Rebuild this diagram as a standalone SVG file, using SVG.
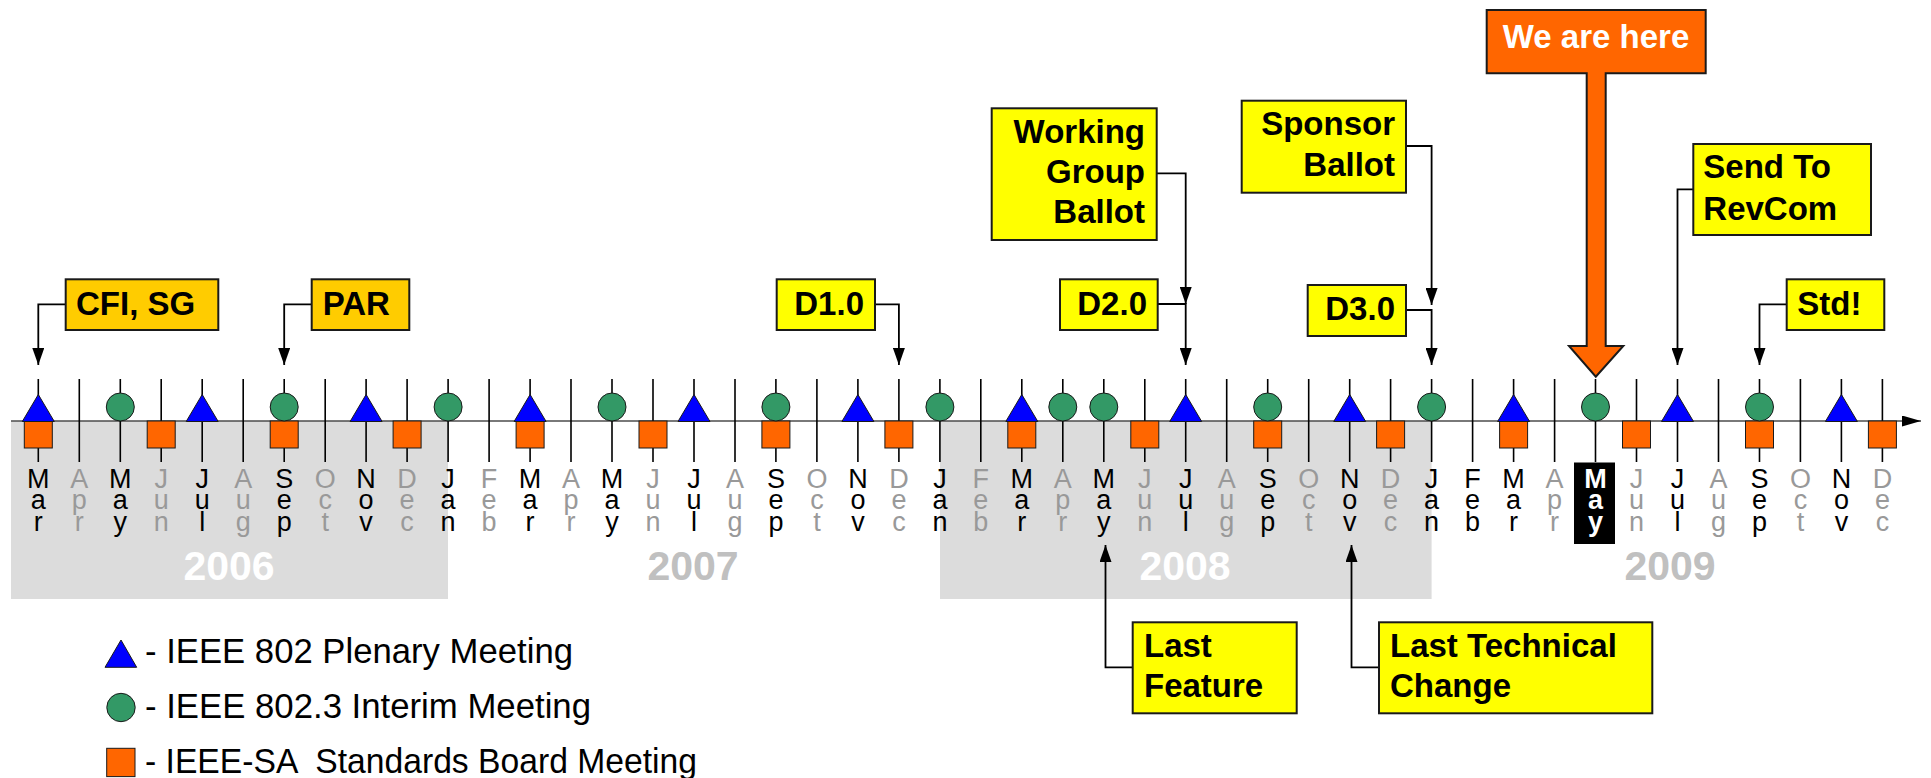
<svg xmlns="http://www.w3.org/2000/svg" width="1931" height="778" viewBox="0 0 1931 778">
<style>
  text { font-family: "Liberation Sans", Arial, sans-serif; }
  .band { fill: #dcdcdc; }
  .tick { stroke: #000; stroke-width: 1.6; fill: none; }
  .axis { stroke: #4d4d4d; stroke-width: 1.6; fill: none; }
  .tri { fill: #0000ff; stroke: #1a1a1a; stroke-width: 1; }
  .cir { fill: #339966; stroke: #1a1a1a; stroke-width: 1; }
  .sq { fill: #ff6600; stroke: #1a1a1a; stroke-width: 1; }
  .m { font-size: 27px; text-anchor: middle; fill: #000; }
  .m.g { fill: #999999; }
  .m.h { fill: #fff; font-weight: bold; }
  .yr { font-size: 41px; font-weight: bold; text-anchor: middle; }
  .yw { fill: #ffffff; }
  .yg { fill: #c0c0c0; }
  .box { fill: #ffff00; stroke: #1a1a1a; stroke-width: 2; }
  .box2 { fill: #ffcc00; stroke: #1a1a1a; stroke-width: 2; }
  .bt { font-size: 33px; font-weight: bold; fill: #000; }
  .end { text-anchor: end; }
  .con { stroke: #000; stroke-width: 1.8; fill: none; }
  .leg { font-size: 34.5px; fill: #000; }
</style>
<defs>
  <marker id="ah" markerUnits="userSpaceOnUse" markerWidth="18" markerHeight="12" refX="17" refY="6" orient="auto">
    <path d="M0,0 L17,6 L0,12 Z" fill="#000"/>
  </marker>
  <marker id="axh" markerUnits="userSpaceOnUse" markerWidth="20" markerHeight="12" refX="19" refY="5.5" orient="auto">
    <path d="M0,0 L19,5.5 L0,11 Z" fill="#000"/>
  </marker>
  <polygon id="tri" class="tri" points="-16,421.5 0,394.5 16,421.5"/>
  <circle id="cir" class="cir" cx="0" cy="407" r="14"/>
  <rect id="sq" class="sq" x="-14" y="421" width="28" height="27"/>
</defs>
<rect width="1931" height="778" fill="#ffffff"/>

<g id="year-bands">
  <rect class="band" x="11" y="421" width="437" height="178"/>
  <rect class="band" x="940" y="421" width="491.6" height="178"/>
</g>

<g id="years">
  <text class="yr yw" x="229" y="580">2006</text>
  <text class="yr yg" x="693" y="580">2007</text>
  <text class="yr yw" x="1185" y="580">2008</text>
  <text class="yr yg" x="1670" y="580">2009</text>
</g>

<g id="timeline">
  <path class="axis" d="M11,421 H1921" marker-end="url(#axh)"/>
  <path class="tick" d="M38.3,379V462 M79.3,379V462 M120.3,379V462 M161.2,379V462 M202.2,379V462 M243.2,379V462 M284.2,379V462 M325.2,379V462 M366.1,379V462 M407.1,379V462 M448.1,379V462 M489.1,379V462 M530.1,379V462 M571,379V462 M612,379V462 M653,379V462 M694,379V462 M735,379V462 M775.9,379V462 M816.9,379V462 M857.9,379V462 M898.9,379V462 M939.9,379V462 M980.8,379V462 M1021.8,379V462 M1062.8,379V462 M1103.8,379V462 M1144.8,379V462 M1185.7,379V462 M1226.7,379V462 M1267.7,379V462 M1308.7,379V462 M1349.7,379V462 M1390.6,379V462 M1431.6,379V462 M1472.6,379V462 M1513.6,379V462 M1554.6,379V462 M1595.5,379V462 M1636.5,379V462 M1677.5,379V462 M1718.5,379V462 M1759.5,379V462 M1800.4,379V462 M1841.4,379V462 M1882.4,379V462"/>
</g>

<g id="meetings">
  <use href="#sq" x="38.3"/><use href="#tri" x="38.3"/>
  <use href="#cir" x="120.3"/>
  <use href="#sq" x="161.2"/>
  <use href="#tri" x="202.2"/>
  <use href="#sq" x="284.2"/><use href="#cir" x="284.2"/>
  <use href="#tri" x="366.1"/>
  <use href="#sq" x="407.1"/>
  <use href="#cir" x="448.1"/>
  <use href="#sq" x="530.1"/><use href="#tri" x="530.1"/>
  <use href="#cir" x="612"/>
  <use href="#sq" x="653"/>
  <use href="#tri" x="694"/>
  <use href="#sq" x="775.9"/><use href="#cir" x="775.9"/>
  <use href="#tri" x="857.9"/>
  <use href="#sq" x="898.9"/>
  <use href="#cir" x="939.9"/>
  <use href="#sq" x="1021.8"/><use href="#tri" x="1021.8"/>
  <use href="#cir" x="1062.8"/>
  <use href="#cir" x="1103.8"/>
  <use href="#sq" x="1144.8"/>
  <use href="#tri" x="1185.7"/>
  <use href="#sq" x="1267.7"/><use href="#cir" x="1267.7"/>
  <use href="#tri" x="1349.7"/>
  <use href="#sq" x="1390.6"/>
  <use href="#cir" x="1431.6"/>
  <use href="#sq" x="1513.6"/><use href="#tri" x="1513.6"/>
  <use href="#cir" x="1595.5"/>
  <use href="#sq" x="1636.5"/>
  <use href="#tri" x="1677.5"/>
  <use href="#sq" x="1759.5"/><use href="#cir" x="1759.5"/>
  <use href="#tri" x="1841.4"/>
  <use href="#sq" x="1882.4"/>
</g>

<g id="months">
  <text class="m" y="487.5"><tspan x="38.3">M</tspan><tspan x="38.3" dy="21.5">a</tspan><tspan x="38.3" dy="21.5">r</tspan></text>
  <text class="m g" y="487.5"><tspan x="79.3">A</tspan><tspan x="79.3" dy="21.5">p</tspan><tspan x="79.3" dy="21.5">r</tspan></text>
  <text class="m" y="487.5"><tspan x="120.3">M</tspan><tspan x="120.3" dy="21.5">a</tspan><tspan x="120.3" dy="21.5">y</tspan></text>
  <text class="m g" y="487.5"><tspan x="161.2">J</tspan><tspan x="161.2" dy="21.5">u</tspan><tspan x="161.2" dy="21.5">n</tspan></text>
  <text class="m" y="487.5"><tspan x="202.2">J</tspan><tspan x="202.2" dy="21.5">u</tspan><tspan x="202.2" dy="21.5">l</tspan></text>
  <text class="m g" y="487.5"><tspan x="243.2">A</tspan><tspan x="243.2" dy="21.5">u</tspan><tspan x="243.2" dy="21.5">g</tspan></text>
  <text class="m" y="487.5"><tspan x="284.2">S</tspan><tspan x="284.2" dy="21.5">e</tspan><tspan x="284.2" dy="21.5">p</tspan></text>
  <text class="m g" y="487.5"><tspan x="325.2">O</tspan><tspan x="325.2" dy="21.5">c</tspan><tspan x="325.2" dy="21.5">t</tspan></text>
  <text class="m" y="487.5"><tspan x="366.1">N</tspan><tspan x="366.1" dy="21.5">o</tspan><tspan x="366.1" dy="21.5">v</tspan></text>
  <text class="m g" y="487.5"><tspan x="407.1">D</tspan><tspan x="407.1" dy="21.5">e</tspan><tspan x="407.1" dy="21.5">c</tspan></text>
  <text class="m" y="487.5"><tspan x="448.1">J</tspan><tspan x="448.1" dy="21.5">a</tspan><tspan x="448.1" dy="21.5">n</tspan></text>
  <text class="m g" y="487.5"><tspan x="489.1">F</tspan><tspan x="489.1" dy="21.5">e</tspan><tspan x="489.1" dy="21.5">b</tspan></text>
  <text class="m" y="487.5"><tspan x="530.1">M</tspan><tspan x="530.1" dy="21.5">a</tspan><tspan x="530.1" dy="21.5">r</tspan></text>
  <text class="m g" y="487.5"><tspan x="571">A</tspan><tspan x="571" dy="21.5">p</tspan><tspan x="571" dy="21.5">r</tspan></text>
  <text class="m" y="487.5"><tspan x="612">M</tspan><tspan x="612" dy="21.5">a</tspan><tspan x="612" dy="21.5">y</tspan></text>
  <text class="m g" y="487.5"><tspan x="653">J</tspan><tspan x="653" dy="21.5">u</tspan><tspan x="653" dy="21.5">n</tspan></text>
  <text class="m" y="487.5"><tspan x="694">J</tspan><tspan x="694" dy="21.5">u</tspan><tspan x="694" dy="21.5">l</tspan></text>
  <text class="m g" y="487.5"><tspan x="735">A</tspan><tspan x="735" dy="21.5">u</tspan><tspan x="735" dy="21.5">g</tspan></text>
  <text class="m" y="487.5"><tspan x="775.9">S</tspan><tspan x="775.9" dy="21.5">e</tspan><tspan x="775.9" dy="21.5">p</tspan></text>
  <text class="m g" y="487.5"><tspan x="816.9">O</tspan><tspan x="816.9" dy="21.5">c</tspan><tspan x="816.9" dy="21.5">t</tspan></text>
  <text class="m" y="487.5"><tspan x="857.9">N</tspan><tspan x="857.9" dy="21.5">o</tspan><tspan x="857.9" dy="21.5">v</tspan></text>
  <text class="m g" y="487.5"><tspan x="898.9">D</tspan><tspan x="898.9" dy="21.5">e</tspan><tspan x="898.9" dy="21.5">c</tspan></text>
  <text class="m" y="487.5"><tspan x="939.9">J</tspan><tspan x="939.9" dy="21.5">a</tspan><tspan x="939.9" dy="21.5">n</tspan></text>
  <text class="m g" y="487.5"><tspan x="980.8">F</tspan><tspan x="980.8" dy="21.5">e</tspan><tspan x="980.8" dy="21.5">b</tspan></text>
  <text class="m" y="487.5"><tspan x="1021.8">M</tspan><tspan x="1021.8" dy="21.5">a</tspan><tspan x="1021.8" dy="21.5">r</tspan></text>
  <text class="m g" y="487.5"><tspan x="1062.8">A</tspan><tspan x="1062.8" dy="21.5">p</tspan><tspan x="1062.8" dy="21.5">r</tspan></text>
  <text class="m" y="487.5"><tspan x="1103.8">M</tspan><tspan x="1103.8" dy="21.5">a</tspan><tspan x="1103.8" dy="21.5">y</tspan></text>
  <text class="m g" y="487.5"><tspan x="1144.8">J</tspan><tspan x="1144.8" dy="21.5">u</tspan><tspan x="1144.8" dy="21.5">n</tspan></text>
  <text class="m" y="487.5"><tspan x="1185.7">J</tspan><tspan x="1185.7" dy="21.5">u</tspan><tspan x="1185.7" dy="21.5">l</tspan></text>
  <text class="m g" y="487.5"><tspan x="1226.7">A</tspan><tspan x="1226.7" dy="21.5">u</tspan><tspan x="1226.7" dy="21.5">g</tspan></text>
  <text class="m" y="487.5"><tspan x="1267.7">S</tspan><tspan x="1267.7" dy="21.5">e</tspan><tspan x="1267.7" dy="21.5">p</tspan></text>
  <text class="m g" y="487.5"><tspan x="1308.7">O</tspan><tspan x="1308.7" dy="21.5">c</tspan><tspan x="1308.7" dy="21.5">t</tspan></text>
  <text class="m" y="487.5"><tspan x="1349.7">N</tspan><tspan x="1349.7" dy="21.5">o</tspan><tspan x="1349.7" dy="21.5">v</tspan></text>
  <text class="m g" y="487.5"><tspan x="1390.6">D</tspan><tspan x="1390.6" dy="21.5">e</tspan><tspan x="1390.6" dy="21.5">c</tspan></text>
  <text class="m" y="487.5"><tspan x="1431.6">J</tspan><tspan x="1431.6" dy="21.5">a</tspan><tspan x="1431.6" dy="21.5">n</tspan></text>
  <text class="m" y="487.5"><tspan x="1472.6">F</tspan><tspan x="1472.6" dy="21.5">e</tspan><tspan x="1472.6" dy="21.5">b</tspan></text>
  <text class="m" y="487.5"><tspan x="1513.6">M</tspan><tspan x="1513.6" dy="21.5">a</tspan><tspan x="1513.6" dy="21.5">r</tspan></text>
  <text class="m g" y="487.5"><tspan x="1554.6">A</tspan><tspan x="1554.6" dy="21.5">p</tspan><tspan x="1554.6" dy="21.5">r</tspan></text>
  <rect x="1574" y="462.5" width="41" height="81.5" fill="#000"/>
  <text class="m h" y="487.5"><tspan x="1595.5">M</tspan><tspan x="1595.5" dy="21.5">a</tspan><tspan x="1595.5" dy="21.5">y</tspan></text>
  <text class="m g" y="487.5"><tspan x="1636.5">J</tspan><tspan x="1636.5" dy="21.5">u</tspan><tspan x="1636.5" dy="21.5">n</tspan></text>
  <text class="m" y="487.5"><tspan x="1677.5">J</tspan><tspan x="1677.5" dy="21.5">u</tspan><tspan x="1677.5" dy="21.5">l</tspan></text>
  <text class="m g" y="487.5"><tspan x="1718.5">A</tspan><tspan x="1718.5" dy="21.5">u</tspan><tspan x="1718.5" dy="21.5">g</tspan></text>
  <text class="m" y="487.5"><tspan x="1759.5">S</tspan><tspan x="1759.5" dy="21.5">e</tspan><tspan x="1759.5" dy="21.5">p</tspan></text>
  <text class="m g" y="487.5"><tspan x="1800.4">O</tspan><tspan x="1800.4" dy="21.5">c</tspan><tspan x="1800.4" dy="21.5">t</tspan></text>
  <text class="m" y="487.5"><tspan x="1841.4">N</tspan><tspan x="1841.4" dy="21.5">o</tspan><tspan x="1841.4" dy="21.5">v</tspan></text>
  <text class="m g" y="487.5"><tspan x="1882.4">D</tspan><tspan x="1882.4" dy="21.5">e</tspan><tspan x="1882.4" dy="21.5">c</tspan></text>
</g>

<g id="connectors">
  <path class="con" d="M65.7,304.3 H38.3 V365" marker-end="url(#ah)"/>
  <path class="con" d="M311.7,304.3 H284.2 V365" marker-end="url(#ah)"/>
  <path class="con" d="M875,304.3 H898.9 V365" marker-end="url(#ah)"/>
  <path class="con" d="M1156.7,173.3 H1185.7 V304" marker-end="url(#ah)"/>
  <path class="con" d="M1157.7,304 H1185.7 V365" marker-end="url(#ah)"/>
  <path class="con" d="M1406,146 H1431.6 V305" marker-end="url(#ah)"/>
  <path class="con" d="M1406,310 H1431.6 V365" marker-end="url(#ah)"/>
  <path class="con" d="M1693.3,189.3 H1677.5 V365" marker-end="url(#ah)"/>
  <path class="con" d="M1786.7,304.3 H1759.5 V365" marker-end="url(#ah)"/>
  <path class="con" d="M1132.7,667.3 H1105.5 V545" marker-end="url(#ah)"/>
  <path class="con" d="M1379,667.3 H1351.5 V545" marker-end="url(#ah)"/>
</g>

<g id="cfi-sg">
  <rect class="box2" x="65.7" y="279.3" width="152.6" height="50.7"/>
  <text class="bt" x="76" y="314.5">CFI, SG</text>
</g>
<g id="par">
  <rect class="box2" x="311.7" y="279.3" width="97.6" height="50.7"/>
  <text class="bt" x="322.7" y="314.5">PAR</text>
</g>
<g id="d1">
  <rect class="box" x="776.7" y="279.3" width="98.3" height="50.7"/>
  <text class="bt end" x="864" y="314.5">D1.0</text>
</g>
<g id="wg-ballot">
  <rect class="box" x="991.7" y="108.3" width="165" height="131.7"/>
  <text class="bt end" y="143.3"><tspan x="1145">Working</tspan><tspan x="1145" dy="40">Group</tspan><tspan x="1145" dy="40">Ballot</tspan></text>
</g>
<g id="d2">
  <rect class="box" x="1060" y="279.3" width="97.7" height="50.7"/>
  <text class="bt end" x="1147" y="314.5">D2.0</text>
</g>
<g id="sponsor-ballot">
  <rect class="box" x="1241.7" y="100.7" width="164.3" height="92"/>
  <text class="bt end" y="135"><tspan x="1395">Sponsor</tspan><tspan x="1395" dy="41">Ballot</tspan></text>
</g>
<g id="d3">
  <rect class="box" x="1307.7" y="285" width="98.3" height="51"/>
  <text class="bt end" x="1395" y="320">D3.0</text>
</g>
<g id="we-are-here">
  <path d="M1486.7,10 H1705.7 V73.3 H1605.7 V346 H1623.3 L1595.8,376.7 L1569,346 H1586.7 V73.3 H1486.7 Z" fill="#ff6600" stroke="#1a1a1a" stroke-width="2"/>
  <text class="bt" x="1596" y="47.7" text-anchor="middle" style="fill:#fff">We are here</text>
</g>
<g id="send-revcom">
  <rect class="box" x="1693.3" y="144" width="177.7" height="91"/>
  <text class="bt" y="178.3"><tspan x="1703.3">Send To</tspan><tspan x="1703.3" dy="41.7">RevCom</tspan></text>
</g>
<g id="std">
  <rect class="box" x="1786.7" y="279.3" width="97.6" height="50.7"/>
  <text class="bt" x="1797.3" y="314.5">Std!</text>
</g>
<g id="last-feature">
  <rect class="box" x="1132.7" y="622.3" width="164" height="91"/>
  <text class="bt" y="656.7"><tspan x="1144">Last</tspan><tspan x="1144" dy="40">Feature</tspan></text>
</g>
<g id="last-technical-change">
  <rect class="box" x="1379" y="622.3" width="273.3" height="91"/>
  <text class="bt" y="656.7"><tspan x="1390">Last Technical</tspan><tspan x="1390" dy="40">Change</tspan></text>
</g>

<g id="legend">
  <polygon class="tri" points="105,667.3 121,640 136.7,667.3"/>
  <text class="leg" x="145" y="663.3" textLength="428" lengthAdjust="spacingAndGlyphs">- IEEE 802 Plenary Meeting</text>
  <circle class="cir" cx="121" cy="707.5" r="14.2"/>
  <text class="leg" x="145" y="718.3" textLength="446" lengthAdjust="spacingAndGlyphs">- IEEE 802.3 Interim Meeting</text>
  <rect class="sq" x="106.7" y="748.3" width="28.3" height="28.3"/>
  <text class="leg" x="145" y="773.3" xml:space="preserve" textLength="552" lengthAdjust="spacingAndGlyphs">- IEEE-SA  Standards Board Meeting</text>
</g>
</svg>
